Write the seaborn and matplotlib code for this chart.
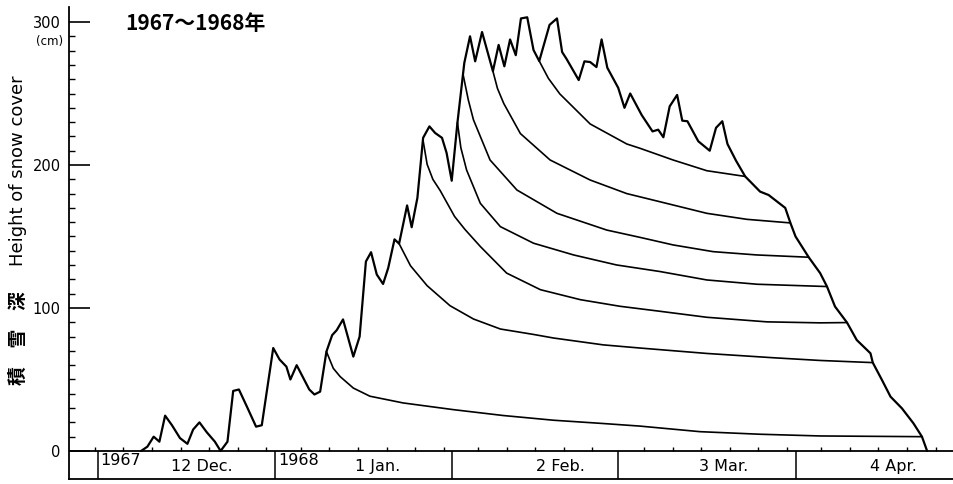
import numpy as np
import pandas as pd
import matplotlib
matplotlib.use("Agg")
import matplotlib.pyplot as plt
import seaborn as sns
from matplotlib.transforms import blended_transform_factory

sns.set_style("white")
plt.rcParams["font.family"] = ["DejaVu Sans", "Noto Sans CJK JP"]
plt.rcParams["text.color"] = "black"
plt.rcParams["ytick.color"] = "black"
plt.rcParams["xtick.color"] = "black"
plt.rcParams["axes.labelcolor"] = "black"

# ---------------- data (days counted from 1 Dec 1967) ----------------
depth_day = [7.6, 8.7, 9.8, 10.8, 11.8, 13.0, 14.4, 15.7, 16.7, 17.8, 19.1, 20.5, 21.5,
             22.7, 23.7, 24.7, 26.1, 27.7, 28.7, 30.7, 31.8, 33.0, 33.7, 34.8, 37.0, 37.9,
             38.9, 40.0, 41.0, 41.8, 42.9, 44.7, 45.8, 46.9, 47.8, 48.8, 49.9, 50.8, 51.9,
             52.7, 54.1, 54.9, 55.9, 56.9, 58.0, 59.0, 60.2, 61.0, 61.9, 62.9, 64.1, 65.1,
             66.0, 67.2, 69.1, 70.1, 71.1, 72.1, 73.1, 74.0, 75.1, 76.2, 77.2, 79.0, 80.3,
             81.2, 82.0, 84.1, 85.1, 86.1, 87.2, 88.1, 89.1, 91.0, 92.1, 93.1, 95.1, 97.0,
             98.0, 98.9, 100.0, 101.3, 102.2, 103.1, 105.0, 107.0, 108.1, 109.2, 110.1,
             111.6, 113.2, 115.8, 117.3, 120.2, 121.1, 122.0, 124.3, 126.3, 127.5, 128.9,
             131.0, 132.7, 135.1, 135.5, 137.1, 138.6, 140.6, 142.6, 144.1, 145.0]
depth_cm = [0, 3, 10, 6.5, 24.7, 18, 9, 5, 15, 20, 13, 6.5, 0,
            6.5, 42, 43, 31, 17, 18, 72, 64, 59, 50, 60, 43, 39.5,
            41.5, 69.5, 81, 84.5, 92, 66, 80, 132.5, 139, 123.4, 116.8, 128, 148,
            145, 171.7, 156.5, 177, 219, 227, 222.4, 219, 208.5, 189, 229.6, 271.4, 290,
            272.5, 293, 265.6, 284, 269, 287.8, 276.8, 302.5, 303.3, 280.4, 272.7, 298, 302.5,
            279, 274, 259.4, 272.5, 272, 268.5, 287.8, 268, 254, 240, 250, 235, 223.5,
            224.7, 219.4, 241, 249, 231, 230.6, 216.6, 210, 226, 230.6, 214.7,
            203, 192, 181.4, 179, 170, 159.5, 150, 135.5, 124.4, 115, 101,
            89.8, 77.6, 68.3, 61.8, 49.7, 38, 29.8, 19.4, 10, 0]

# settlement curves of snow layers
layer1_day = [40.0, 41.2, 42.4, 44.7, 47.6, 53.4, 62.2, 70.9, 79.7, 88.4, 94.8, 105.3, 115.8, 126.3, 144.1]
layer1_cm = [69.5, 57.8, 52, 44, 38.3, 33.6, 28.9, 24.8, 21.5, 19.2, 17.4, 13.5, 11.7, 10.5, 10]
layer2_day = [52.7, 54.7, 57.6, 61.6, 65.7, 70.4, 76.2, 79.7, 88.4, 94.8, 106.5, 118.1, 126.3, 135.5]
layer2_cm = [145, 129.5, 115.6, 101.6, 92.3, 85.3, 81.5, 79, 74.2, 72, 68.2, 65.2, 63.3, 61.8]
layer3_day = [56.9, 57.6, 58.6, 59.9, 62.4, 64.2, 66.9, 71.5, 77.4, 84.4, 91.3, 98.3, 106.5, 117.0, 126.3, 131.0]
layer3_cm = [217, 200.5, 190, 182, 164, 155, 143, 124.4, 112.8, 105.8, 101.2, 97.7, 93.5, 90.3, 89.6, 89.8]
layer4_day = [62.9, 63.5, 64.5, 66.9, 70.4, 76.2, 83.2, 90.7, 98.3, 106.5, 115.3, 127.5]
layer4_cm = [229.6, 212, 196.5, 173.2, 156.9, 145.3, 137.1, 130.1, 125.5, 119.6, 116.6, 115]
layer5_day = [63.9, 64.8, 65.7, 68.6, 73.3, 80.3, 89.0, 94.8, 100.6, 107.6, 115.2, 124.3]
layer5_cm = [263, 245.5, 231.6, 203.5, 182.5, 166.2, 154.5, 149.4, 144.1, 139.4, 137.1, 135.5]
layer6_day = [69.1, 69.9, 71.0, 73.9, 79.1, 86.1, 92.5, 98.3, 106.5, 113.5, 121.1]
layer6_cm = [265.6, 253.5, 243, 222, 203.5, 189.5, 180, 174.3, 166.2, 162, 159.5]
layer7_day = [77.2, 78.8, 80.8, 86.1, 92.5, 94.8, 100.6, 106.5, 113.2]
layer7_cm = [272.7, 260.6, 249.7, 228.7, 214.7, 211.7, 203.5, 196, 192]

month_start = [0, 31, 62, 91, 122]
month_len = [31, 31, 29, 31, 30]
month_labels = ["12 Dec.", "1 Jan.", "2 Feb.", "3 Mar.", "4 Apr."]
month_label_pos = [18.3, 49.0, 80.9, 109.4, 139.1]
year_labels = ["1967", "1968"]
year_label_pos = [0.5, 31.6]
ytick_vals = [0, 100, 200, 300]

# ---------------- figure ----------------
fig = plt.figure(figsize=(9.54, 4.84), dpi=100)
ax = fig.add_axes([69 / 954, 5 / 484, 885 / 954, 472 / 484])

main = pd.DataFrame({"day": depth_day, "cm": depth_cm})
sns.lineplot(data=main, x="day", y="cm", sort=False, estimator=None,
             color="black", lw=1.6, ax=ax)

layers = [(layer1_day, layer1_cm), (layer2_day, layer2_cm), (layer3_day, layer3_cm),
          (layer4_day, layer4_cm), (layer5_day, layer5_cm), (layer6_day, layer6_cm),
          (layer7_day, layer7_cm)]
curves = pd.concat([pd.DataFrame({"day": d, "cm": c, "layer": i})
                    for i, (d, c) in enumerate(layers)], ignore_index=True)
sns.lineplot(data=curves, x="day", y="cm", units="layer", estimator=None, sort=False,
             color="black", lw=1.2, ax=ax, legend=False)

xmin, xmax = -5, 149.7
ymin, ymax = -19.6, 310.5
ax.set_xlim(xmin, xmax)
ax.set_ylim(ymin, ymax)
ax.set_xlabel("")
ax.set_ylabel("")

for s in ["top", "right"]:
    ax.spines[s].set_visible(False)
for s in ["left", "bottom"]:
    ax.spines[s].set_color("black")
    ax.spines[s].set_linewidth(1.3)

# date box under the axis
ax.axhline(0, color="black", lw=1.3)
ax.vlines(month_start, ymin, 0, color="black", lw=1.1)
tick_days = [-0.5]
for s, n in zip(month_start, month_len):
    tick_days += [s + k - 0.5 for k in range(5, n + 1, 5)]
tick_days = [t for t in tick_days if xmin < t < xmax]
ax.vlines(tick_days, 0, 2.8, color="black", lw=1.0)

for lab, pos in zip(month_labels, month_label_pos):
    ax.text(pos, -11, lab, ha="center", va="center", fontsize=11.5, color="black")
for lab, pos in zip(year_labels, year_label_pos):
    ax.text(pos, -6.5, lab, ha="left", va="center", fontsize=11.5, color="black")

ax.set_xticks([])
ax.set_yticks(ytick_vals)
ax.set_yticklabels([str(v) for v in ytick_vals])
ax.set_yticks([v for v in range(10, 301, 10) if v % 100], minor=True)
ax.tick_params(axis="y", which="major", direction="in", length=15, width=1.2,
               pad=6, labelsize=10.5, left=True, colors="black")
ax.tick_params(axis="y", which="minor", direction="in", length=4.5, width=1.0,
               left=True, colors="black")

tr = blended_transform_factory(ax.transAxes, ax.transData)
ax.text(-6 / 885, 286.5, "(cm)", transform=tr, ha="right", va="center",
        fontsize=8.5, color="black")

fig.text(125 / 954, 1 - 24 / 484, "1967～1968年", fontsize=15, weight="bold",
         family=["Noto Sans CJK JP", "DejaVu Sans"], ha="left", va="center", color="black")
fig.text(18 / 954, 1 - 171 / 484, "Height of snow cover", rotation=90,
         ha="center", va="center", fontsize=13, color="black")
fig.text(18 / 954, 1 - 338 / 484, "積　雪　深", rotation=90, ha="center", va="center",
         fontsize=13.5, weight="bold", family=["Noto Sans CJK JP", "DejaVu Sans"],
         color="black")

fig.savefig("out.png", dpi=100)
